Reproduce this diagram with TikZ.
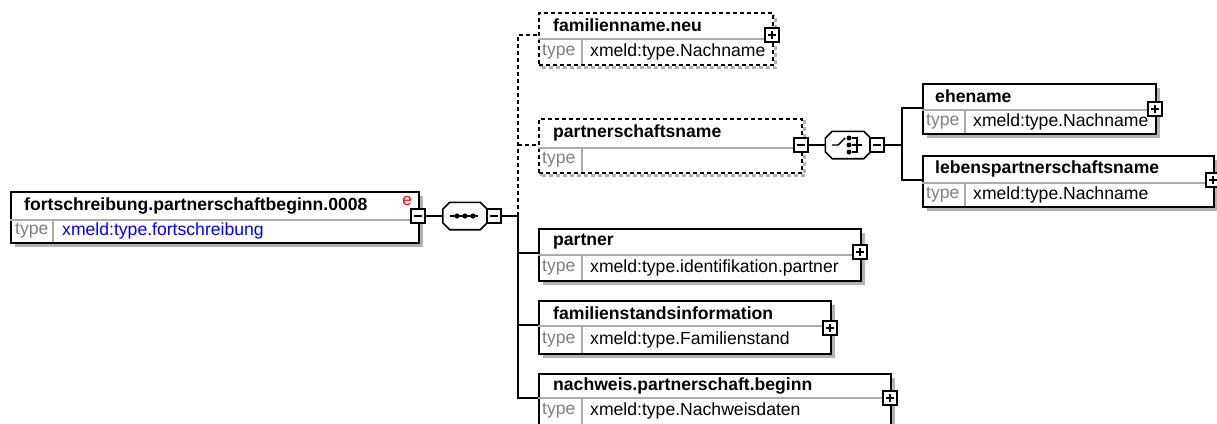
\documentclass[tikz,border=0pt]{standalone}
\usepackage{fontspec}
\setmainfont{Liberation Sans}
\usetikzlibrary{shadows}
\definecolor{xsblue}{RGB}{0,0,255}
\definecolor{xsgray}{RGB}{128,128,128}

\begin{document}
\begin{tikzpicture}[x=1pt, y=-1pt,
    conn/.style={line width=1.6pt},
    optconn/.style={conn, dash pattern=on 4pt off 3pt},
    elem/.style={draw, line width=1.6pt, fill=white, inner sep=0pt, anchor=north west,
        drop shadow={shadow xshift=4pt, shadow yshift=-4pt, fill=gray!60, opacity=1}},
    optelem/.style={draw, line width=1.6pt, fill=white, inner sep=0pt, anchor=north west,
        dash pattern=on 4pt off 3pt,
        drop shadow={shadow xshift=3pt, shadow yshift=-3pt, draw=gray!60, line width=3pt,
            dash pattern=on 4pt off 3pt, fill=none, opacity=1}},
    sepline/.style={gray!65, line width=1.3pt},
    ename/.style={anchor=west, inner sep=0pt, font=\fontsize{17.6}{20}\selectfont\bfseries},
    tlbl/.style={anchor=west, inner sep=0pt, text=xsgray, font=\fontsize{17.6}{20}\selectfont},
    tval/.style={anchor=west, inner sep=0pt, font=\fontsize{17.6}{20}\selectfont},
    pmbox/.style={draw, fill=white, line width=1.4pt, minimum size=14pt, inner sep=0pt},
    minusbox/.style={pmbox, path picture={
        \draw[line width=1.6pt] ([xshift=3pt]path picture bounding box.west)
            -- ([xshift=-3pt]path picture bounding box.east);}},
    plusbox/.style={pmbox, path picture={
        \draw[line width=1.6pt] ([xshift=3pt]path picture bounding box.west)
            -- ([xshift=-3pt]path picture bounding box.east);
        \draw[line width=1.6pt] ([yshift=-3pt]path picture bounding box.north)
            -- ([yshift=3pt]path picture bounding box.south);}},
    compositor/.style={inner sep=0pt, minimum width=44pt, minimum height=27pt},
    icon/.style={line width=1.4pt}
]
    \useasboundingbox (0,0) rectangle (1217,423);
    \clip (0,0) rectangle (1217,423);

    % Wurzelelement
    \node[elem, minimum width=408pt, minimum height=51pt] (root) at (10,191) {};
    \draw[sepline] (10,220) -- (418,220);
    \draw[sepline] (53,220) -- (53,242);
    \node[ename] (rootname) at (24,205.5) {fortschreibung.partnerschaftbeginn.0008};
    \node[tlbl] (roottl) at (15,231) {type};
    \node[tval, text=xsblue] (roottv) at (62,231) {xmeld:type.fortschreibung};
    \node[text=red, inner sep=0pt, font=\fontsize{17}{17}\selectfont] (rootflag) at (407,201) {e};
    \node[minusbox] (rootm) at (418,216) {};

    % Kompositoren (Sequenz, Auswahl): Achteck mit Schatten
    \node[compositor] (seq) at (465,216) {};
    \node[compositor, minimum width=45pt, minimum height=27pt] (cho) at (848,145) {};
    \foreach \c in {seq,cho} {
        \fill[gray!60, shift={(4,4)}] ([shift={(7,0)}]\c.north west) -- ([shift={(-7,0)}]\c.north east)
            -- ([shift={(0,7)}]\c.north east) -- ([shift={(0,-7)}]\c.south east)
            -- ([shift={(-7,0)}]\c.south east) -- ([shift={(7,0)}]\c.south west)
            -- ([shift={(0,-7)}]\c.south west) -- ([shift={(0,7)}]\c.north west) -- cycle;
        \draw[line width=1.6pt, fill=white] ([shift={(7,0)}]\c.north west) -- ([shift={(-7,0)}]\c.north east)
            -- ([shift={(0,7)}]\c.north east) -- ([shift={(0,-7)}]\c.south east)
            -- ([shift={(-7,0)}]\c.south east) -- ([shift={(7,0)}]\c.south west)
            -- ([shift={(0,-7)}]\c.south west) -- ([shift={(0,7)}]\c.north west) -- cycle;
    }

    % Sequenz
    \node[minusbox] (seqm) at (494,216) {};
    \draw[icon] ([shift={(-15,0)}]seq.center) -- ([shift={(13,0)}]seq.center);
    \foreach \dx in {-8,0,8}
        \fill ([shift={(\dx,0)}]seq.center) circle (2.6pt);
    \draw[conn] (rootm.east) -- (seq.west);
    \draw[conn] (seqm.east) -- (518,216) coordinate (bus1);

    % familienname.neu (optional)
    \node[optelem, minimum width=234pt, minimum height=52pt] (fam) at (538,12) {};
    \draw[sepline] (538,39) -- (772,39);
    \draw[sepline] (582,39) -- (582,64);
    \node[ename] (famname) at (553,25.5) {familienname.neu};
    \node[tlbl] (famtl) at (542,51.5) {type};
    \node[tval] (famtv) at (590,51.5) {xmeld:type.Nachname};
    \node[plusbox] (famp) at (772,35) {};

    % partnerschaftsname (optional)
    \node[optelem, minimum width=263pt, minimum height=54pt] (pname) at (538,118) {};
    \draw[sepline] (538,148) -- (801,148);
    \draw[sepline] (582,148) -- (582,172);
    \node[ename] (pnamename) at (553,133) {partnerschaftsname};
    \node[tlbl] (pnametl) at (542,160) {type};
    \node[minusbox] (pnamem) at (801,145) {};

    % Verbindungen zur Sequenz
    \draw[optconn] (bus1) -- (518,35) coordinate (bustop) -- (fam.west |- bustop);
    \draw[optconn] (bus1 |- pnamem) -- (pname.west |- pnamem);

    % Auswahl
    \node[minusbox] (chom) at (877,145) {};
    \draw[icon] ([shift={(-16,0)}]cho.center) -- ([shift={(-10,0)}]cho.center)
        -- ([shift={(-3,-7)}]cho.center);
    \foreach \dy in {-7,0,7}
        \fill ([shift={(1,\dy)}]cho.center) circle (2.5pt);
    \draw[icon] ([shift={(4,-7)}]cho.center) -- ([shift={(9,-7)}]cho.center)
        -- ([shift={(9,7)}]cho.center) -- ([shift={(4,7)}]cho.center);
    \draw[icon] ([shift={(4,0)}]cho.center) -- ([shift={(14,0)}]cho.center);
    \draw[conn] (pnamem.east) -- (cho.west);
    \draw[conn] (chom.east) -- (902,145) coordinate (bus2);

    % ehename
    \node[elem, minimum width=233pt, minimum height=50pt] (ehe) at (922,83) {};
    \draw[sepline] (922,110) -- (1155,110);
    \draw[sepline] (965,110) -- (965,133);
    \node[ename] (ehename) at (935,96.5) {ehename};
    \node[tlbl] (ehetl) at (926,121.5) {type};
    \node[tval] (ehetv) at (973,121.5) {xmeld:type.Nachname};
    \node[plusbox] (ehep) at (1155,109) {};

    % lebenspartnerschaftsname
    \node[elem, minimum width=291pt, minimum height=51pt] (lebens) at (922,155) {};
    \draw[sepline] (922,183) -- (1213,183);
    \draw[sepline] (965,183) -- (965,206);
    \node[ename] (lebensname) at (935,169) {lebenspartnerschaftsname};
    \node[tlbl] (lebenstl) at (926,194.5) {type};
    \node[tval] (lebenstv) at (973,194.5) {xmeld:type.Nachname};
    \node[plusbox] (lebensp) at (1213,180) {};

    \draw[conn] (ehe.west |- 0,108) -| (bus2) |- (lebens.west |- 0,180);

    % partner
    \node[elem, minimum width=322pt, minimum height=52pt] (partner) at (538,228) {};
    \draw[sepline] (538,255) -- (860,255);
    \draw[sepline] (582,255) -- (582,280);
    \node[ename] (partnername) at (553,241.5) {partner};
    \node[tlbl] (partnertl) at (542,267.5) {type};
    \node[tval] (partnertv) at (590,267.5) {xmeld:type.identifikation.partner};
    \node[plusbox] (partnerp) at (860,252) {};

    % familienstandsinformation
    \node[elem, minimum width=292pt, minimum height=53pt] (famst) at (538,300) {};
    \draw[sepline] (538,326) -- (830,326);
    \draw[sepline] (582,326) -- (582,353);
    \node[ename] (famstname) at (553,313) {familienstandsinformation};
    \node[tlbl] (famsttl) at (542,339.5) {type};
    \node[tval] (famsttv) at (590,339.5) {xmeld:type.Familienstand};
    \node[plusbox] (famstp) at (830,328) {};

    % nachweis.partnerschaft.beginn
    \node[elem, minimum width=352pt, minimum height=52pt] (nachw) at (538,373) {};
    \draw[sepline] (538,398) -- (890,398);
    \draw[sepline] (582,398) -- (582,425);
    \node[ename] (nachwname) at (553,385.5) {nachweis.partnerschaft.beginn};
    \node[tlbl] (nachwtl) at (542,411) {type};
    \node[tval] (nachwtv) at (590,411) {xmeld:type.Nachweisdaten};
    \node[plusbox] (nachwp) at (890,398) {};

    % Verbindungen (Pflichtelemente)
    \draw[conn] (bus1) |- (nachw.west |- 0,398);
    \draw[conn] (bus1 |- 0,253) -- (partner.west |- 0,253);
    \draw[conn] (bus1 |- 0,325) -- (famst.west |- 0,325);
\end{tikzpicture}
\end{document}
